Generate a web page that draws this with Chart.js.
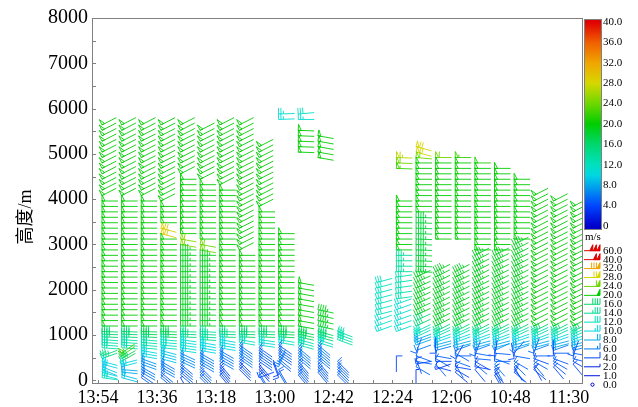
<!DOCTYPE html>
<html><head><meta charset="utf-8">
<script src="https://cdn.jsdelivr.net/npm/chart.js@4.4.1/dist/chart.umd.min.js"></script>
<style>html,body{margin:0;padding:0;background:#fff;overflow:hidden}canvas{display:block}</style>
</head><body>
<canvas id="c" width="638" height="407"></canvas>
<script>
// ---------------- DATA ----------------
const timeLabels = ['13:54','13:36','13:18','13:00','12:42','12:24','12:06','10:48','11:30'];
const columnIndex = [0,1,2,3,4,5,6,7,8,9,10,11,12,13,14,15,16,17,18,19,20,21,22,23,24];
const heightLevels = [60,120,180,240,300,360,420,480,540,600,660,720,780,840,900,960,1020,1080,
  1200,1320,1440,1560,1680,1800,1920,2040,2160,2280,2400,2520,2640,2760,2880,3000,3120,3240,
  3360,3480,3600,3720,3840,3960,4080,4200,4320,4440,4560,4680,4800,4920,5040,5160,5280,5400,
  5520,5640,5760,5880];
const heightTicks = [0,500,1000,1500,2000,2500,3000,3500,4000,4500,5000,5500,6000,6500,7000,7500,8000];
const colorbarTicks = [0,4,8,12,16,20,24,28,32,36,40];
const legendSpeeds = [60,40,32,28,24,20,16,14,12,10,8,6,4,2,1,0];

// wind profile of each time column: layers [bottom m, top m, speed m/s, direction deg]
const profile00 = [[4080,5640,20,243],[1200,3960,20,270],[960,1080,16,272],[720,900,13,274],[480,540,15,250],[360,420,10,285],[240,300,9,292],[120,180,10,285],[60,60,12,278]];
const profile01 = [[4080,5640,20,243],[1200,3960,20,270],[960,1080,16,272],[720,900,13,274],[540,600,22,235],[420,480,17,240],[300,360,10,255],[180,240,8,275],[60,120,9,285]];
const profile02 = [[4080,5640,20,243],[1200,3960,20,270],[960,1080,17,272],[720,900,13,275],[540,660,10,280],[360,480,7,290],[180,300,6,300],[60,120,5,305]];
const profile03 = [[3960,5640,20,243],[3480,3840,20,270],[3240,3360,29,285],[1200,3120,20,270],[960,1080,17,272],[720,900,12,275],[480,660,9,285],[240,420,6,300],[60,180,5,310]];
const profile04 = [[4560,5640,20,243],[3240,4440,20,270],[3000,3120,25,280],[1200,2880,19,270],[960,1080,15,272],[660,900,11,278],[420,600,7,295],[120,360,5,310],[60,60,3,330]];
const profile05 = [[4440,5520,20,243],[3120,4320,20,270],[2880,3000,24,280],[1200,2760,19,270],[900,1080,14,273],[660,840,10,280],[360,600,6,300],[60,300,5,315]];
const profile06 = [[4320,5640,20,243],[1200,4200,20,270],[960,1080,15,272],[720,900,10,280],[420,660,6,300],[120,360,4,320]];
const profile07 = [[2880,5640,20,243],[1200,2760,20,270],[960,1080,16,272],[840,900,12,280],[480,780,6,305],[240,420,4,315]];
const profile08 = [[3840,5160,20,243],[1200,3720,20,270],[960,1080,16,272],[780,900,11,278],[420,720,5,305],[240,360,3,320],[120,180,5,330],[60,60,4,250]];
const profile09 = [[5760,5880,11,268],[1200,3240,20,270],[960,1080,17,273],[840,900,12,280],[540,780,5,305],[420,480,5,310],[300,360,6,205],[180,240,5,330],[60,120,4,160]];
const profile10 = [[5880,5880,12,265],[5760,5760,11,270],[5040,5520,20,272],[1200,2160,20,280],[960,1080,17,282],[780,900,13,285],[480,720,6,310],[120,420,5,320]];
const profile11 = [[4920,5400,20,280],[1200,1560,19,282],[960,1080,16,285],[840,900,12,288],[480,780,6,310],[180,420,5,320]];
const profile12 = [[900,1080,13,290],[120,420,5,315]];
const profile13 = [];
const profile14 = [[1440,2160,12,255],[1080,1320,11,250]];
const profile15 = [[4920,4920,27,272],[4800,4800,24,272],[4680,4680,22,272],[2880,3960,20,270],[2400,2760,14,270],[1800,2280,13,262],[1080,1680,11,250],[540,540,4,0]];
const profile16 = [[5040,5160,28,285],[4920,4920,24,275],[3720,4800,20,270],[2400,3600,18,272],[1440,2280,19,245],[1200,1320,16,245],[960,1080,12,245],[780,900,8,250],
  [660,660,6,250],[600,600,5,200],[540,540,5,290],[480,480,4,340],[420,420,5,280],[360,360,4,260],[300,300,5,300],[240,240,3,0]];
const profile17 = [[4920,4920,24,270],[3120,4800,20,270],[1200,2400,19,243],[1080,1080,16,243],[960,1020,13,245],[840,900,10,250],[720,780,8,255],
  [660,660,6,255],[600,600,4,180],[540,540,5,280],[480,480,5,300],[420,420,4,270],[360,360,5,320],[300,300,4,285],[240,240,3,250]];
const profile18 = [[4920,4920,22,270],[3120,4800,20,270],[1200,2400,19,243],[1080,1080,16,243],[960,1020,13,245],[840,900,10,250],[720,780,8,255],
  [660,660,6,250],[600,600,5,300],[540,540,5,270],[480,480,4,210],[420,420,5,290],[360,360,5,330],[300,300,4,280],[240,240,4,300],[180,180,3,310]];
const profile19 = [[4800,4800,21,270],[2880,4680,20,270],[1200,2760,19,243],[1080,1080,16,243],[960,1020,13,245],[840,900,10,250],[720,780,8,255],
  [660,660,6,250],[600,600,5,280],[540,540,5,200],[480,480,5,275],[420,420,4,300],[360,360,5,310],[300,300,4,280],[240,240,4,320]];
const profile20 = [[2880,4680,20,270],[1200,2760,19,243],[1080,1080,16,243],[960,1020,13,245],[840,900,10,250],[720,780,8,255],
  [660,660,7,245],[600,600,5,275],[540,540,4,190],[480,480,5,290],[420,420,5,270],[360,360,6,320],[300,300,5,330],[240,240,5,335],[180,180,4,320],[120,120,4,330]];
const profile21 = [[3120,4440,20,270],[1200,3000,19,243],[1080,1080,16,243],[960,1020,13,245],[840,900,10,250],[720,780,8,255],
  [660,660,7,250],[600,600,5,220],[540,540,5,280],[480,480,4,170],[420,420,5,300],[360,360,5,315],[300,300,5,330],[240,240,4,320],[180,180,4,310]];
const profile22 = [[1200,4080,20,243],[1080,1080,16,243],[960,1020,13,245],[840,900,10,250],[720,780,8,255],
  [660,660,6,250],[600,600,5,200],[540,540,5,270],[480,480,4,290],[420,420,5,300],[360,360,5,320],[300,300,4,330],[240,240,4,310]];
const profile23 = [[1200,3960,20,243],[1080,1080,16,243],[960,1020,13,245],[840,900,10,250],[720,780,8,255],
  [660,660,6,250],[600,600,5,270],[540,540,4,180],[480,480,5,290],[420,420,5,300],[360,360,4,310],[300,300,4,320]];
const profile24 = [[1200,3840,20,243],[1080,1080,16,243],[960,1020,13,245],[840,900,10,250],[720,780,8,255],
  [660,660,6,255],[600,600,5,280],[540,540,4,200],[480,480,5,285],[420,420,4,300],[360,360,4,320]];

const profiles = [profile00,profile01,profile02,profile03,profile04,profile05,profile06,profile07,profile08,
  profile09,profile10,profile11,profile12,profile13,profile14,profile15,profile16,profile17,profile18,
  profile19,profile20,profile21,profile22,profile23,profile24];

// --------------- build points ---------------
const points = [];
columnIndex.forEach((ci) => {
  profiles[ci].forEach(([lo, hi, s, d]) => {
    heightLevels.forEach(h => { if (h >= lo && h <= hi) points.push({x: ci, y: h, s: s, d: d}); });
  });
});

// --------------- colours ---------------
const cmap = [[0,[0,0,205]],[4,[0,70,255]],[8,[0,170,235]],[10,[0,215,225]],[12,[0,225,190]],
  [16,[0,215,110]],[20,[0,205,0]],[24,[110,215,0]],[28,[215,215,0]],[32,[240,165,0]],[36,[240,95,0]],[40,[225,0,0]]];
function speedRGB(s) {
  if (s <= cmap[0][0]) return cmap[0][1];
  for (let i = 1; i < cmap.length; i++) {
    if (s <= cmap[i][0]) {
      const [a, ca] = cmap[i-1], [b, cb] = cmap[i];
      const t = (s - a) / (b - a);
      return ca.map((v, k) => Math.round(v + (cb[k] - v) * t));
    }
  }
  return cmap[cmap.length-1][1];
}
function speedColor(s) { const c = speedRGB(s); return 'rgb(' + c.join(',') + ')'; }

// --------------- barb glyph ---------------
function drawBarb(ctx, x, y, s, d, mirror, fillFlags) {
  const col = speedColor(s);
  ctx.strokeStyle = col; ctx.fillStyle = col;
  if (s < 0.5) { ctx.beginPath(); ctx.arc(x, y, 1.6, 0, Math.PI*2); ctx.stroke(); return; }
  const a = (-90 - d) * Math.PI / 180;
  const ux = Math.cos(a), uy = -Math.sin(a);
  let nx = Math.cos(a + Math.PI/2), ny = -Math.sin(a + Math.PI/2);
  if (mirror) { nx = -nx; ny = -ny; }
  const L = 16, F = 6, G = 2.4;
  ctx.beginPath(); ctx.moveTo(x, y); ctx.lineTo(x + L*ux, y + L*uy); ctx.stroke();
  let r = Math.floor(s/2 + 0.25) * 2;
  const flags = Math.floor(r/20); r -= flags*20;
  const full = Math.floor(r/4); r -= full*4;
  const half = r >= 2 ? 1 : 0;
  let t = 0;
  for (let i = 0; i < flags; i++) {
    ctx.beginPath();
    ctx.moveTo(x + t*ux, y + t*uy);
    ctx.lineTo(x + t*ux + F*nx, y + t*uy + F*ny);
    ctx.lineTo(x + (t+3)*ux, y + (t+3)*uy);
    ctx.closePath();
    if (fillFlags) ctx.fill();
    ctx.stroke();
    t += 3.6;
  }
  for (let i = 0; i < full; i++) {
    ctx.beginPath(); ctx.moveTo(x + t*ux, y + t*uy); ctx.lineTo(x + t*ux + F*nx, y + t*uy + F*ny); ctx.stroke();
    t += G;
  }
  if (half) {
    ctx.beginPath(); ctx.moveTo(x + t*ux, y + t*uy); ctx.lineTo(x + t*ux + F/2*nx, y + t*uy + F/2*ny); ctx.stroke();
  }
}

const SERIF = '"Liberation Serif", "Times New Roman", serif';

const barbPlugin = {
  id: 'barbs',
  afterDatasetsDraw(chart) {
    const {ctx, chartArea: ca} = chart;
    const meta = chart.getDatasetMeta(0);
    const pts = chart.data.datasets[0].data;
    ctx.save();
    ctx.beginPath(); ctx.rect(ca.left, ca.top, ca.right - ca.left, ca.bottom - ca.top); ctx.clip();
    ctx.lineWidth = 0.9; ctx.lineJoin = 'miter';
    meta.data.forEach((el, k) => drawBarb(ctx, el.x + 4, el.y, pts[k].s, pts[k].d, false, false));
    ctx.restore();
  },
  afterDraw(chart) {
    const {ctx, chartArea: ca, scales} = chart;
    ctx.save();
    // frame
    ctx.strokeStyle = '#808080'; ctx.lineWidth = 1;
    ctx.strokeRect(ca.left + 0.5, ca.top + 0.5, ca.right - ca.left - 1, ca.bottom - ca.top - 1);
    // ticks
    ctx.beginPath();
    columnIndex.forEach(v => { const px = Math.round(scales.x.getPixelForValue(v)) + 0.5; ctx.moveTo(px, ca.bottom); ctx.lineTo(px, ca.bottom - 4); });
    heightTicks.forEach(v => { const py = Math.round(scales.y.getPixelForValue(v)) + 0.5; ctx.moveTo(ca.left, py); ctx.lineTo(ca.left + 4, py); });
    ctx.stroke();
    // y title
    ctx.fillStyle = '#000';
    ctx.translate(26, 217); ctx.rotate(-Math.PI/2);
    ctx.font = '18px ' + SERIF + ', "Noto Sans CJK SC"';
    ctx.textAlign = 'center'; ctx.textBaseline = 'middle';
    ctx.fillText('高度/m', 0, 0);
    ctx.restore();

    // colour bar
    ctx.save();
    const cbL = 584, cbW = 18, cbTop = 19, cbBot = 230, v40 = 22, v0 = 226;
    const grad = ctx.createLinearGradient(0, v0, 0, v40);
    cmap.forEach(([v, c]) => grad.addColorStop(v/40, 'rgb(' + c.join(',') + ')'));
    ctx.fillStyle = grad;
    ctx.fillRect(cbL, cbTop, cbW, cbBot - cbTop);
    ctx.strokeStyle = '#808080'; ctx.lineWidth = 1;
    ctx.strokeRect(cbL + 0.5, cbTop + 0.5, cbW - 1, cbBot - cbTop - 1);
    ctx.fillStyle = '#000'; ctx.font = '11px ' + SERIF; ctx.textAlign = 'left'; ctx.textBaseline = 'middle';
    colorbarTicks.forEach(v => {
      const py = v0 - (v0 - v40) * v / 40;
      ctx.fillText(v === 0 ? '0' : v.toFixed(1), 603, py);
    });
    ctx.fillText('m/s', 585, 237);
    // barb legend
    ctx.lineWidth = 1;
    legendSpeeds.forEach((s, k) => {
      const py = 250.7 + k * 8.93;
      if (s === 0) drawBarb(ctx, 592.5, py, 0, 90, true, true);
      else drawBarb(ctx, 600, py, s, 90, true, true);
      ctx.fillStyle = '#000';
      ctx.fillText(s.toFixed(1), 603, py);
    });
    ctx.restore();
  }
};

new Chart(document.getElementById('c'), {
  type: 'scatter',
  data: { datasets: [{ data: points, pointRadius: 0, pointHoverRadius: 0, showLine: false }] },
  options: {
    responsive: false, animation: false, events: [],
    layout: { padding: { left: 0, right: 55, top: 18, bottom: 0 } },
    plugins: { legend: { display: false }, tooltip: { enabled: false } },
    scales: {
      x: {
        type: 'linear', min: -0.306, max: 24.713,
        afterBuildTicks: (sc) => { sc.ticks = columnIndex.map(v => ({ value: v })); },
        afterFit: (sc) => { sc.height = 23; },
        grid: { display: false, drawTicks: false },
        border: { display: false },
        ticks: {
          autoSkip: false, maxRotation: 0, minRotation: 0, padding: 3,
          color: '#000', font: { family: SERIF, size: 18 },
          callback: (v) => (v % 3 === 0 ? timeLabels[v / 3] : '')
        }
      },
      y: {
        type: 'linear', min: -80, max: 8000,
        afterBuildTicks: (sc) => { sc.ticks = heightTicks.map(v => ({ value: v })); },
        afterFit: (sc) => { sc.width = 92; },
        grid: { display: false, drawTicks: false },
        border: { display: false },
        ticks: { padding: 4, color: '#000', font: { family: SERIF, size: 20 }, callback: (v) => String(v) }
      }
    }
  },
  plugins: [barbPlugin]
});
</script>
</body></html>
